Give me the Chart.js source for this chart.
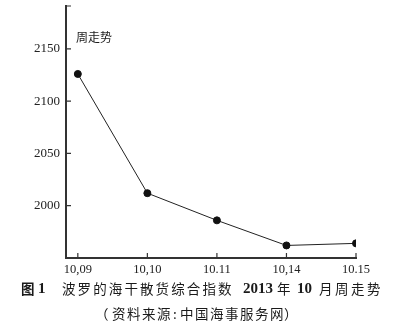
<!DOCTYPE html>
<html><head><meta charset="utf-8">
<script src="https://cdn.jsdelivr.net/npm/chart.js@4/dist/chart.umd.min.js"></script>
<style>
html,body{margin:0;padding:0;background:#fff;}
#wrap{position:relative;width:398px;height:328px;overflow:hidden;}
canvas{position:absolute;left:0;top:0;}
.t{position:absolute;white-space:nowrap;color:#1a1a1a;line-height:16px;}
.cj{font-family:"Noto Sans CJK SC";font-size:13.5px;}
.sb{font-family:"Liberation Serif";font-weight:bold;font-size:15px;}
.l1{top:280px;}
.l2{top:305px;}
</style></head>
<body><div id="wrap"><canvas id="c" width="398" height="328"></canvas>
<div class="t cj" style="left:76px;top:29px;font-size:12px;">周走势</div>
<div class="t cj l1" style="left:21px;font-weight:bold;">图</div>
<div class="t sb l1" style="left:38px;">1</div>
<div class="t cj l1" style="left:62px;letter-spacing:2.1px;">波罗的海干散货综合指数</div>
<div class="t sb l1" style="left:243px;">2013</div>
<div class="t cj l1" style="left:277px;">年</div>
<div class="t sb l1" style="left:297px;">10</div>
<div class="t cj l1" style="left:319px;letter-spacing:2.5px;">月周走势</div>
<div class="t cj l2" style="left:95px;">（</div>
<div class="t cj l2" style="left:112px;letter-spacing:1.5px;">资料来源</div>
<div class="t cj l2" style="left:173px;">:</div>
<div class="t cj l2" style="left:180px;letter-spacing:1.5px;">中国海事服务网</div>
<div class="t cj l2" style="left:284px;">）</div>
</div>
<script>
const dates = ["10,09", "10,10", "10.11", "10,14", "10.15"];
const bdi = [2126, 2012, 1986, 1962, 1964];
const yTicks = [2000, 2050, 2100, 2150];

const innerTicks = {
  id: 'innerTicks',
  afterDraw(chart) {
    const ctx = chart.ctx, a = chart.chartArea;
    const xs = chart.scales.x, ys = chart.scales.y;
    ctx.save();
    ctx.strokeStyle = '#333';
    ctx.lineWidth = 1.2;
    ctx.beginPath();
    dates.forEach((d, i) => {
      const x = xs.getPixelForValue(i);
      ctx.moveTo(x, a.bottom); ctx.lineTo(x, a.bottom - 5);
    });
    yTicks.concat([ys.max]).forEach(v => {
      const y = ys.getPixelForValue(v);
      ctx.moveTo(a.left, y); ctx.lineTo(a.left + 5, y);
    });
    ctx.stroke();
    ctx.restore();
  }
};

new Chart(document.getElementById('c'), {
  type: 'line',
  data: {
    datasets: [{
      data: bdi.map((v, i) => ({x: i, y: v})),
      borderColor: '#222',
      borderWidth: 1,
      pointRadius: 3.5,
      pointBackgroundColor: '#111',
      pointBorderColor: '#111',
      tension: 0
    }]
  },
  options: {
    responsive: false,
    animation: false,
    layout: {padding: {top: 6, right: 42, left: 0, bottom: 0}},
    plugins: {legend: {display: false}, tooltip: {enabled: false}},
    scales: {
      x: {
        type: 'linear', min: -0.17, max: 4,
        border: {color: '#333', width: 2},
        grid: {display: false, drawTicks: false},
        ticks: {
          stepSize: 1, includeBounds: false, padding: 4, color: '#222',
          font: {family: 'Liberation Serif', size: 12.5},
          callback: v => dates[v] ?? ''
        },
        afterFit: s => { s.height = 70; s.paddingLeft = 0; s.paddingRight = 0; }
      },
      y: {
        min: 1950, max: 2191,
        border: {color: '#333', width: 2},
        grid: {display: false, drawTicks: false},
        ticks: {
          stepSize: 50, includeBounds: false, padding: 6, color: '#222',
          font: {family: 'Liberation Serif', size: 13},
          callback: v => yTicks.includes(v) ? String(v) : ''
        },
        afterFit: s => { s.width = 66; s.paddingTop = 0; s.paddingBottom = 0; }
      }
    }
  },
  plugins: [innerTicks]
});
</script></body></html>
